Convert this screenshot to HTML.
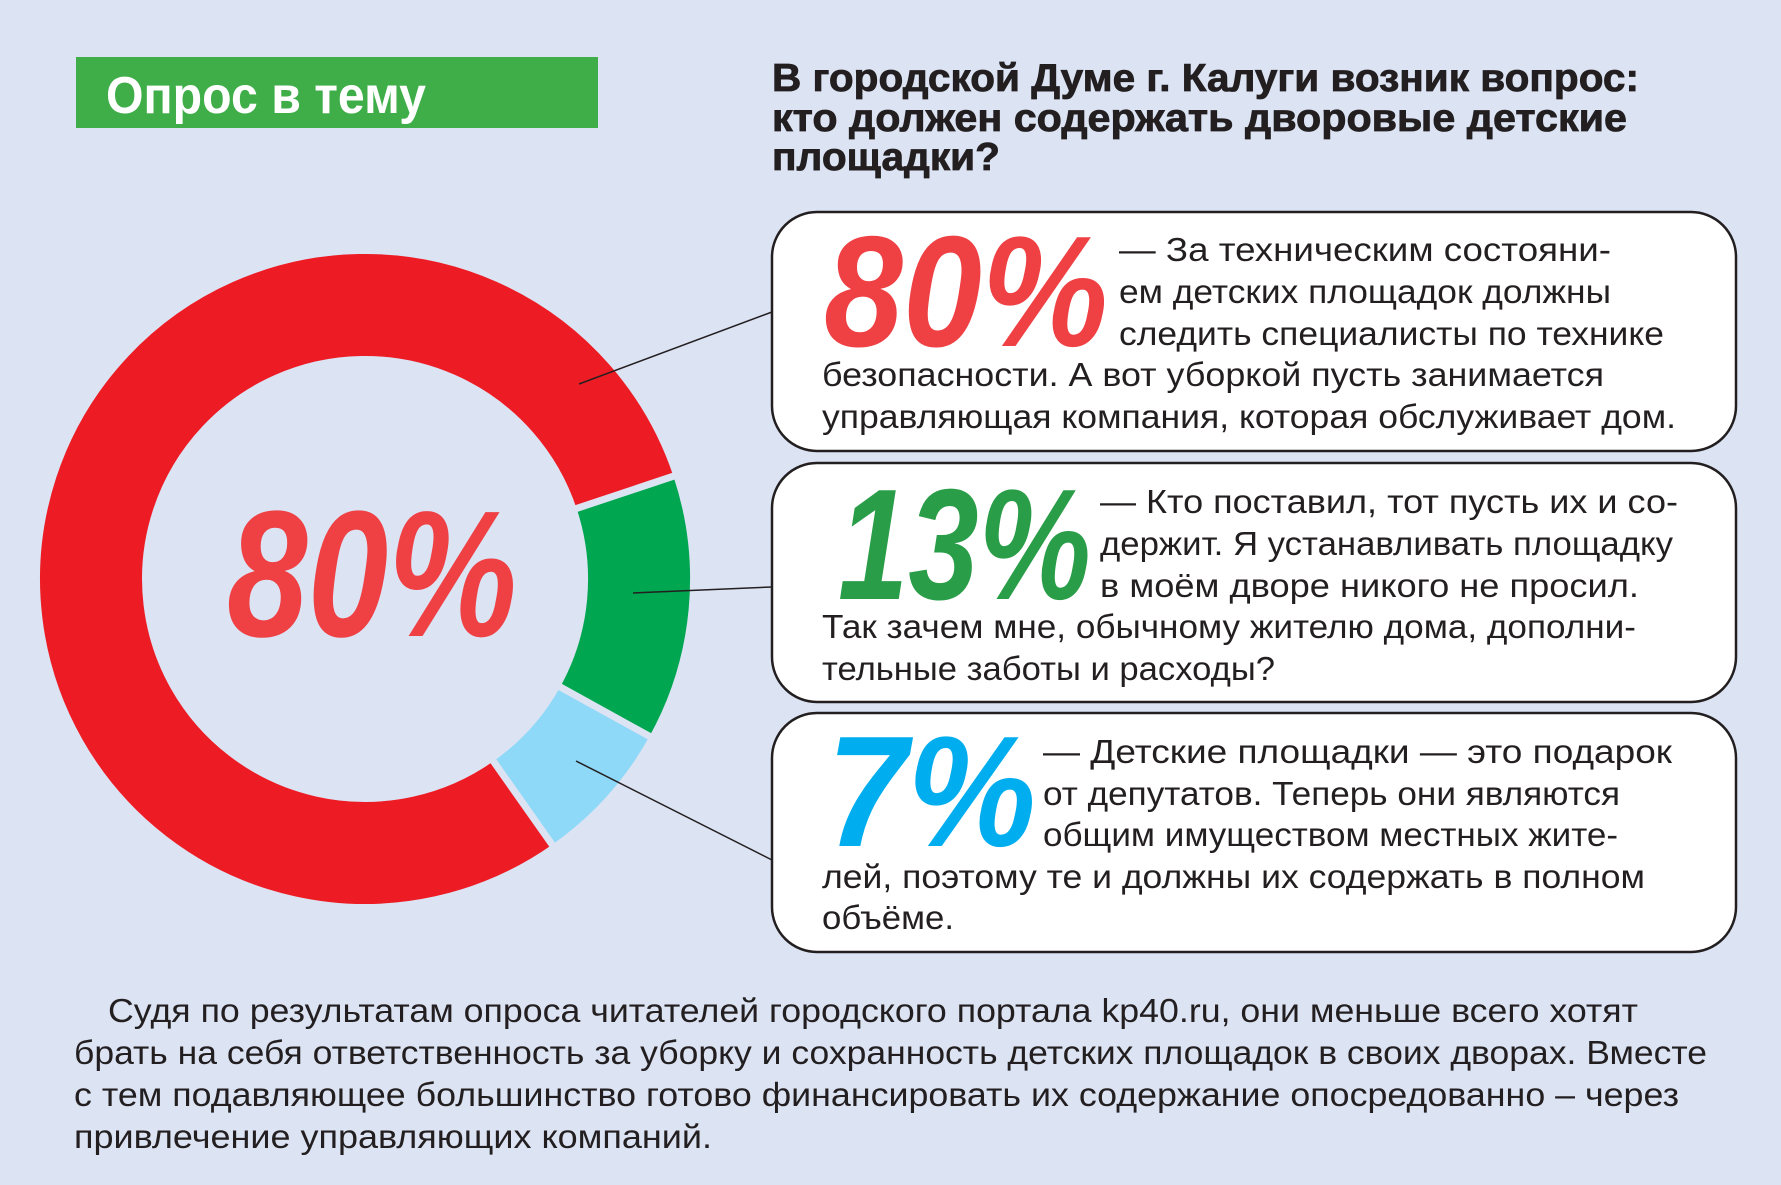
<!DOCTYPE html>
<html><head><meta charset="utf-8"><style>
html,body{margin:0;padding:0;background:#dce3f3;}
svg{display:block}
text{font-family:"Liberation Sans Narrow","Liberation Sans","DejaVu Sans Condensed",sans-serif;}
.b{font-size:33px;fill:#231f20;}
</style></head><body>
<svg width="1781" height="1185" viewBox="0 0 1781 1185" xmlns="http://www.w3.org/2000/svg">
<rect width="1781" height="1185" fill="#dce3f3"/>
<rect x="76" y="57" width="522" height="71" fill="#3fae49"/>
<text x="106" y="113" font-size="52" font-weight="bold" fill="#fff" textLength="320" lengthAdjust="spacingAndGlyphs">Опрос в тему</text>
<g font-weight="bold" font-size="39" fill="#231f20" stroke="#231f20" stroke-width="0.8">
<text x="772" y="91" textLength="867" lengthAdjust="spacingAndGlyphs">В городской Думе г. Калуги возник вопрос:</text>
<text x="772" y="131" textLength="855" lengthAdjust="spacingAndGlyphs">кто должен содержать дворовые детские</text>
<text x="772" y="170" textLength="228" lengthAdjust="spacingAndGlyphs">площадки?</text>
</g>
<g fill="none" stroke-width="102">
<path d="M522.9,802.9 A274 274 0 1 1 625,492.4" stroke="#ed1c24"/>
<path d="M625,492.4 A274 274 0 0 1 604.7,711.9" stroke="#00a650"/>
<path d="M604.7,711.9 A274 274 0 0 1 522.9,802.9" stroke="#8ed8f8"/>
</g>
<g stroke="#dce3f3" stroke-width="7">
<line x1="569" y1="511" x2="683" y2="473"/>
<line x1="553" y1="683" x2="658" y2="741"/>
<line x1="489" y1="755" x2="558" y2="853"/>
</g>
<text x="227" y="636" font-size="180" font-style="italic" font-weight="bold" fill="#ef4044" textLength="290" lengthAdjust="spacingAndGlyphs">80%</text>
<g stroke="#231f20" stroke-width="1.5">
<line x1="579" y1="384" x2="772" y2="312"/>
<line x1="633" y1="593" x2="772" y2="587"/>
<line x1="576" y1="761" x2="772" y2="860"/>
</g>
<g fill="#fff" stroke="#231f20" stroke-width="2.5">
<rect x="772" y="212" width="964" height="239" rx="45"/>
<rect x="772" y="463" width="964" height="239" rx="45"/>
<rect x="772" y="713" width="964" height="239" rx="45"/>
</g>
<g font-style="italic" font-weight="bold" font-size="158">
<text x="824" y="346" fill="#ef4044" textLength="284" lengthAdjust="spacingAndGlyphs">80%</text>
<text x="838" y="599" fill="#2a9d48" textLength="253" lengthAdjust="spacingAndGlyphs">13%</text>
<text x="827" y="846" fill="#00aeef" textLength="209" lengthAdjust="spacingAndGlyphs">7%</text>
</g>
<g class="b">
<text x="1119" y="261" textLength="492" lengthAdjust="spacingAndGlyphs">—  За техническим состояни-</text>
<text x="1119" y="303" textLength="492" lengthAdjust="spacingAndGlyphs">ем детских площадок должны</text>
<text x="1119" y="345" textLength="545" lengthAdjust="spacingAndGlyphs">следить специалисты по технике</text>
<text x="822" y="386" textLength="782" lengthAdjust="spacingAndGlyphs">безопасности. А вот уборкой пусть занимается</text>
<text x="822" y="428" textLength="854" lengthAdjust="spacingAndGlyphs">управляющая компания, которая обслуживает дом.</text>
<text x="1100" y="513" textLength="578" lengthAdjust="spacingAndGlyphs">—  Кто поставил, тот пусть их и со-</text>
<text x="1100" y="555" textLength="573" lengthAdjust="spacingAndGlyphs">держит. Я устанавливать площадку</text>
<text x="1100" y="597" textLength="539" lengthAdjust="spacingAndGlyphs">в моём дворе никого не просил.</text>
<text x="822" y="638" textLength="814" lengthAdjust="spacingAndGlyphs">Так зачем мне, обычному жителю дома, дополни-</text>
<text x="822" y="680" textLength="453" lengthAdjust="spacingAndGlyphs">тельные заботы и расходы?</text>
<text x="1043" y="763" textLength="629" lengthAdjust="spacingAndGlyphs">—  Детские площадки — это подарок</text>
<text x="1043" y="805" textLength="577" lengthAdjust="spacingAndGlyphs">от депутатов. Теперь они являются</text>
<text x="1043" y="846" textLength="575" lengthAdjust="spacingAndGlyphs">общим имуществом местных жите-</text>
<text x="822" y="888" textLength="823" lengthAdjust="spacingAndGlyphs">лей, поэтому те и должны их содержать в полном</text>
<text x="822" y="929" textLength="132" lengthAdjust="spacingAndGlyphs">объёме.</text>
<text x="108" y="1022" textLength="1530" lengthAdjust="spacingAndGlyphs">Судя по результатам опроса читателей городского портала kp40.ru, они меньше всего хотят</text>
<text x="74" y="1064" textLength="1633" lengthAdjust="spacingAndGlyphs">брать на себя ответственность за уборку и сохранность детских площадок в своих дворах. Вместе</text>
<text x="74" y="1106" textLength="1605" lengthAdjust="spacingAndGlyphs">с тем подавляющее большинство готово финансировать их содержание опосредованно – через</text>
<text x="74" y="1148" textLength="638" lengthAdjust="spacingAndGlyphs">привлечение управляющих компаний.</text>
</g>
</svg>
</body></html>
